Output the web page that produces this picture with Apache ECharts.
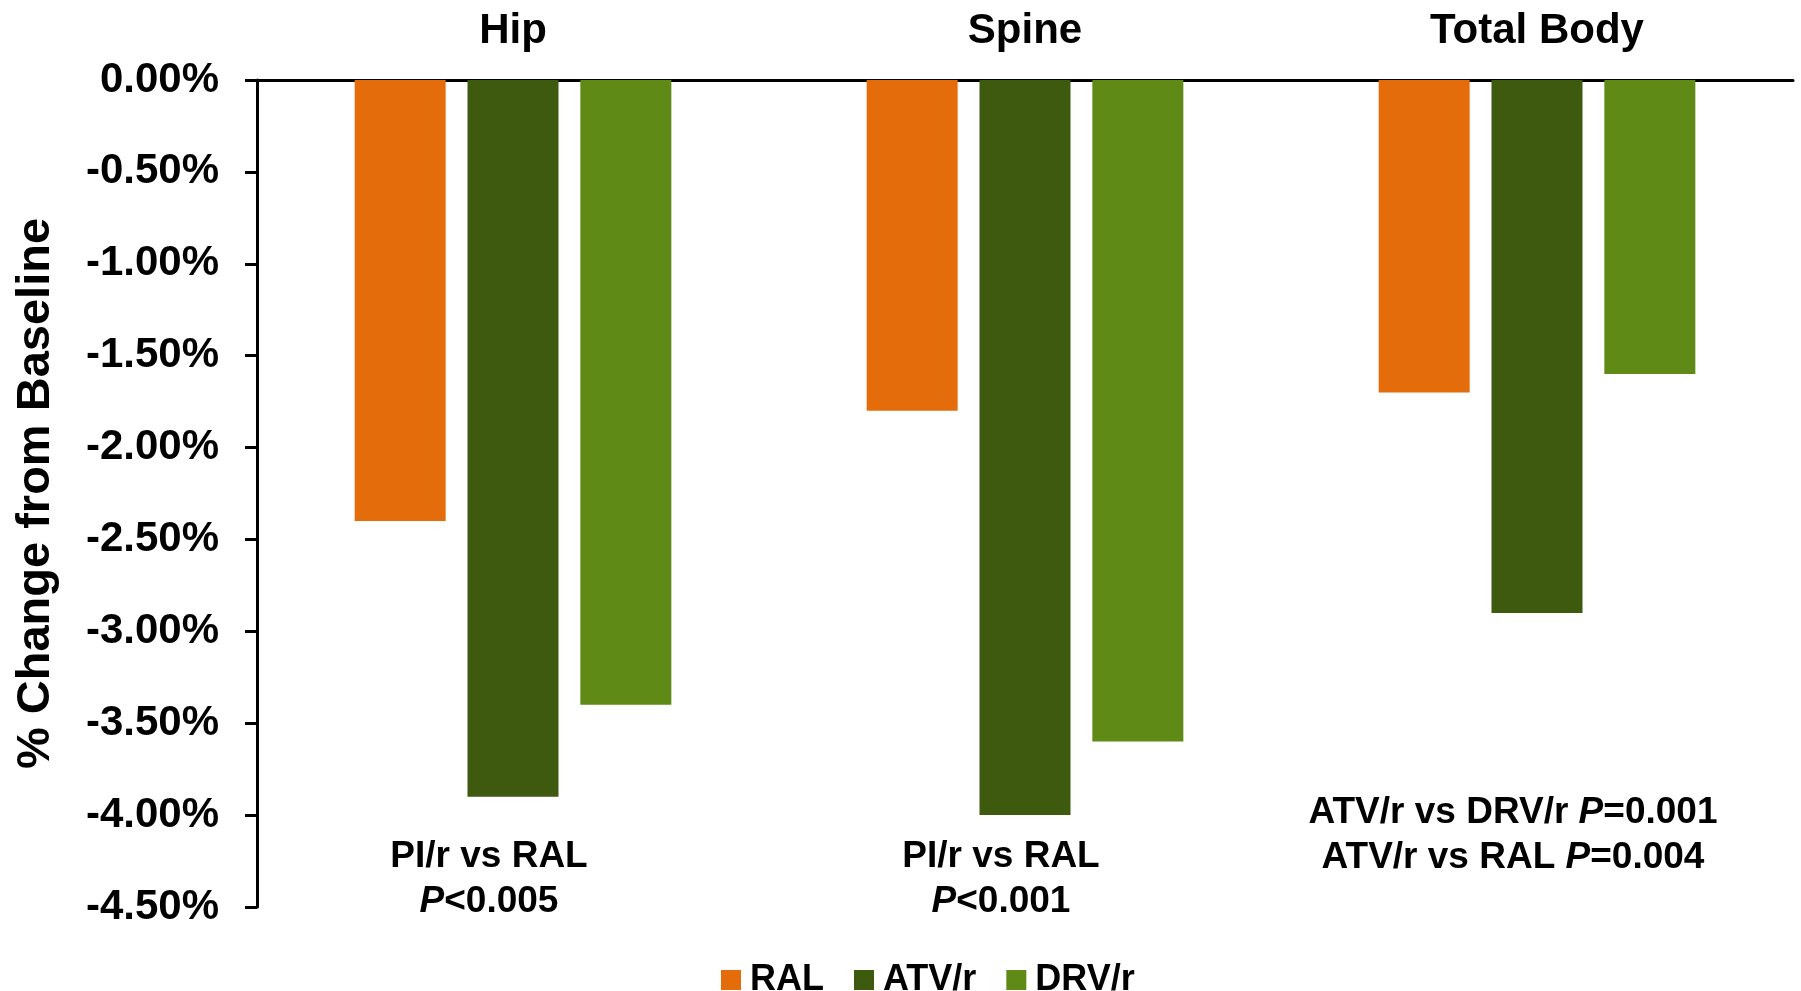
<!DOCTYPE html>
<html>
<head>
<meta charset="utf-8">
<title>% Change from Baseline</title>
<script src="https://cdn.jsdelivr.net/npm/echarts@6/dist/echarts.min.js"></script>
<style>
  html, body { margin: 0; padding: 0; background: #fff; }
  #chart { width: 1801px; height: 991px; }
</style>
</head>
<body>
<div id="chart"></div>
<script>
// data
var categories = ['Hip', 'Spine', 'Total Body'];
var ralValues = [-2.4, -1.8, -1.7];
var atvValues = [-3.9, -4.0, -2.9];
var drvValues = [-3.4, -3.6, -1.6];
var yTicks = { min: -4.5, max: 0, step: 0.5 };

// p-value notes under each group
var noteTexts = [
  'PI/r vs RAL\n{i|P}<0.005',
  'PI/r vs RAL\n{i|P}<0.001',
  'ATV/r vs DRV/r {i|P}=0.001\nATV/r vs RAL {i|P}=0.004'
];
var noteLevels = [-4.35, -4.35, -4.11];

var font = '"Liberation Sans", Arial, sans-serif';
var colors = ['#E46C0A', '#3E5A0E', '#5F8A15'];

function barSeries(name, values, color) {
  return {
    name: name,
    type: 'bar',
    data: values,
    barWidth: 91,
    barGap: '24%',
    itemStyle: { color: color }
  };
}

var chart = echarts.init(document.getElementById('chart'));

chart.setOption({
  animation: false,
  backgroundColor: '#fff',
  textStyle: { fontFamily: font },
  grid: { left: 257, right: 8, top: 80, bottom: 84, outerBoundsMode: 'none', containLabel: false },
  legend: {
    data: ['RAL', 'ATV/r', 'DRV/r'],
    left: 716,
    top: 957,
    itemWidth: 20,
    itemHeight: 20,
    itemGap: 30,
    icon: 'rect',
    textStyle: {
      fontFamily: font,
      fontSize: 36,
      fontWeight: 'bold',
      color: '#000',
      lineHeight: 36,
      padding: [0, 0, 0, 4]
    }
  },
  xAxis: {
    type: 'category',
    data: categories,
    position: 'top',
    axisLine: { lineStyle: { color: '#000', width: 3 } },
    axisTick: { show: false },
    axisLabel: {
      fontFamily: font,
      fontSize: 42,
      fontWeight: 'bold',
      color: '#000',
      margin: 28
    }
  },
  yAxis: {
    type: 'value',
    min: yTicks.min,
    max: yTicks.max,
    interval: yTicks.step,
    name: '% Change from Baseline',
    nameLocation: 'middle',
    nameRotate: 90,
    nameGap: 197,
    nameTextStyle: {
      fontFamily: font,
      fontSize: 47,
      fontWeight: 'bold',
      color: '#000'
    },
    axisLine: { show: true, lineStyle: { color: '#000', width: 3 } },
    axisTick: { show: true, length: 12, lineStyle: { color: '#000', width: 3 } },
    splitLine: { show: false },
    axisLabel: {
      fontFamily: font,
      fontSize: 42,
      fontWeight: 'bold',
      color: '#000',
      margin: 38,
      formatter: function(v) { return v.toFixed(2) + '%'; }
    }
  },
  series: [
    barSeries('RAL', ralValues, colors[0]),
    barSeries('ATV/r', atvValues, colors[1]),
    barSeries('DRV/r', drvValues, colors[2]),
    {
      name: 'notes',
      type: 'scatter',
      symbolSize: 0,
      itemStyle: { color: '#000', opacity: 1 },
      silent: true,
      data: noteLevels.map(function(v, i) { return [i, v]; }),
      label: {
        show: true,
        position: 'inside',
        offset: [-24, 0],
        align: 'center',
        verticalAlign: 'middle',
        fontFamily: font,
        fontSize: 37,
        fontWeight: 'bold',
        color: '#000',
        textBorderWidth: 0,
        lineHeight: 45,
        formatter: function(p) { return noteTexts[p.dataIndex]; },
        rich: {
          i: {
            fontFamily: font,
            fontSize: 37,
            fontWeight: 'bold',
            fontStyle: 'italic',
            color: '#000',
            lineHeight: 45
          }
        }
      }
    }
  ]
});
</script>
</body>
</html>
